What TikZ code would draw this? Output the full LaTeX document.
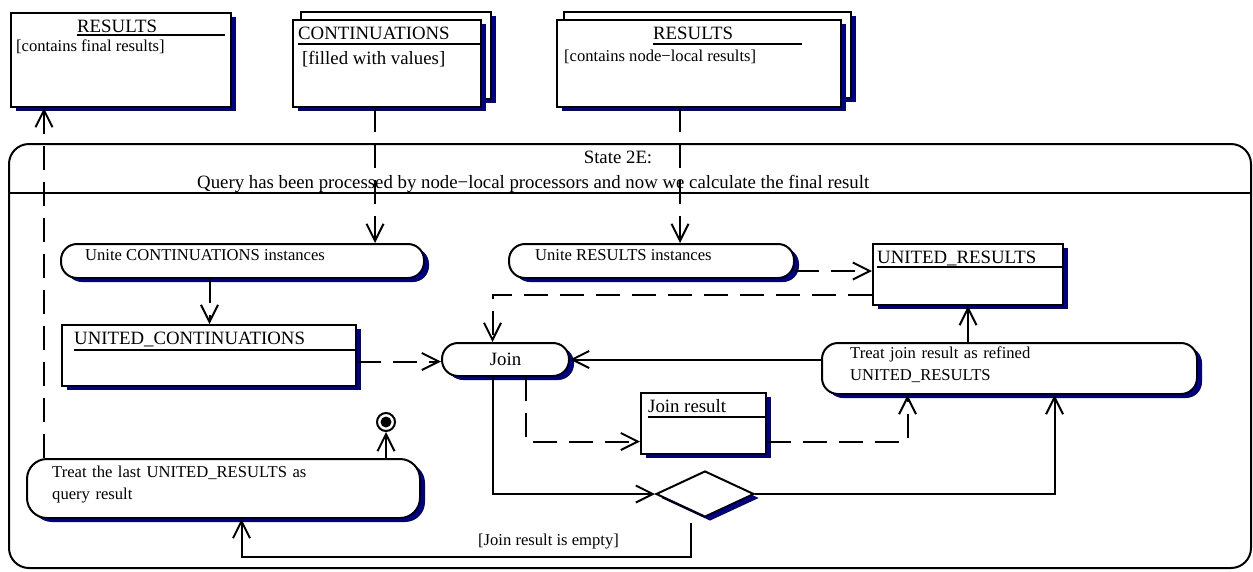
\documentclass[tikz,border=0pt]{standalone}
\usepackage{fontspec}
\setmainfont{Liberation Serif}
\usetikzlibrary{arrows.meta,shapes.geometric,shadows}
\definecolor{shd}{HTML}{000080}
\newcommand\txtsz{\fontsize{16.6pt}{22pt}\selectfont}
\newcommand\ttlsz{\fontsize{18.8pt}{23pt}\selectfont}
\tikzset{
  shdw/.style={drop shadow={shadow xshift=5pt,shadow yshift=-4pt,fill=shd,opacity=1}},
  obj/.style={draw,line width=2pt,fill=white,anchor=north west,inner sep=0pt,shdw},
  act/.style={obj,rounded corners=16pt},
  txt/.style={font=\txtsz,inner sep=0pt,anchor=base west},
  ttl/.style={txt,font=\ttlsz},
  uln/.style={line width=2pt},
  arr/.style={line width=2pt,-{Straight Barb[length=17pt,width=17pt]}},
  darr/.style={arr,dash pattern=on 24pt off 12pt}}

\begin{document}
\begin{tikzpicture}[x=1pt,y=-1pt]
\useasboundingbox (0,0) rectangle (1253,571);
% state
\node[draw,line width=2pt,rounded corners=20pt,anchor=north west,inner sep=0pt,minimum width=1242pt,minimum height=424pt] (st) at (8,143) {};
\draw[uln] ([yshift=-50pt]st.north west) -- ([yshift=-50pt]st.north east);
\node[ttl,anchor=base] (sth) at (618,163) {State 2E:};
\node[ttl] (std) at (197,188) {Query has been processed by node−local processors and now we calculate the final result};
% objects on top
\node[obj,minimum width=220pt,minimum height=94pt] (rf) at (10,12) {};
\node[ttl] (rft) at (77,32) {RESULTS}; \draw[uln] (77,35) -- (225,35);
\node[txt] (rfd) at (16,51) {[contains final results]};
\node[obj,minimum width=190pt,minimum height=87pt] (cb) at (300,11) {};
\node[obj,minimum width=188pt,minimum height=87pt] (cf) at (292,19) {};
\node[ttl] (cft) at (298,39) {CONTINUATIONS}; \draw[uln] (298,44) -- (480,44);
\node[ttl] (cfd) at (302,64) {[filled with values]};
\node[obj,minimum width=287pt,minimum height=86pt] (nb) at (563,11) {};
\node[obj,minimum width=284pt,minimum height=87pt] (nf) at (556,19) {};
\node[ttl] (nft) at (653,39) {RESULTS}; \draw[uln] (653,44) -- (802,44);
\node[txt] (nfd) at (564,61) {[contains node−local results]};
% activities and objects inside
\node[act,minimum width=363pt,minimum height=34pt] (uc) at (60,243) {};
\node[txt] (uct) at (85,260) {Unite CONTINUATIONS instances};
\node[act,minimum width=285pt,minimum height=34pt] (ur) at (508,243) {};
\node[txt] (urt) at (535,260) {Unite RESULTS instances};
\node[obj,minimum width=190pt,minimum height=61pt] (urs) at (872,243) {};
\node[ttl] (urst) at (877,263) {UNITED\_RESULTS}; \draw[uln] (877,267) -- (1062,267);
\node[obj,minimum width=294pt,minimum height=61pt] (ucs) at (61,324) {};
\node[ttl] (ucst) at (74,344) {UNITED\_CONTINUATIONS}; \draw[uln] (74,350) -- (355,350);
\node[act,font=\ttlsz,minimum width=127pt,minimum height=33pt] (jn) at (441,342) {Join};
\node[act,minimum width=375pt,minimum height=51pt] (tj) at (821,342) {};
\node[txt,text width=330pt,align=left] (tjt) at (850,358) {Treat join result as refined\\UNITED\_RESULTS};
\node[obj,minimum width=125pt,minimum height=61pt] (jr) at (640,392) {};
\node[ttl] (jrt) at (648,412) {Join result}; \draw[uln] (648,417) -- (765,417);
\node[diamond,draw,line width=2pt,fill=white,inner sep=0pt,minimum width=98pt,minimum height=46pt,shdw] (dm) at (705,494) {};
\node[act,rounded corners=20pt,minimum width=393pt,minimum height=59pt] (tl) at (26,458) {};
\node[txt,text width=360pt,align=left] (tlt) at (52,477) {Treat the last UNITED\_RESULTS as\\query result};
\node[circle,draw,line width=2pt,fill=white,minimum size=18pt,inner sep=0pt] (fin) at (386,422) {};
\fill (fin.center) circle (5.5pt);
\node[txt] (lj) at (478,545) {[Join result is empty]};
% flows
\draw[darr] ([xshift=-12pt]cf.south) -- ([xshift=-12pt]cf.south |- uc.north);
\draw[darr] ([xshift=-19pt]nf.south) -- ([xshift=-19pt]nf.south |- ur.north);
\draw[darr] ([xshift=-33pt]uc.south) -- ([xshift=-33pt]uc.south |- ucs.north);
\draw[darr] ([yshift=-10pt]ur.east) -- ([yshift=-10pt]ur.east -| urs.west);
\draw[darr] ([yshift=-20pt]urs.west) -| ([xshift=-13pt]jn.north);
\draw[darr] ([yshift=-6pt]ucs.east) -- ([yshift=-6pt]ucs.east -| jn.west);
\draw[arr] (tj.west |- jn.east) -- (jn.east);
\draw[arr] (urs.south |- tj.north) -- (urs.south);
\draw[darr] ([xshift=20pt]jn.south) |- ([yshift=-18pt]jr.west);
\draw[darr] ([yshift=-18pt]jr.east) -| ([xshift=-102pt]tj.south);
\draw[arr] ([xshift=-13pt]jn.south) |- (dm.west);
\draw[arr] (dm.east) -| ([xshift=45pt]tj.south);
\draw[arr] ([xshift=-14pt,yshift=-5pt]dm.south) -- ++(0,34) -| ([xshift=18pt]tl.south);
\draw[arr] (tl.north -| fin.south) -- (fin.south);
\draw[darr] ([xshift=-77pt]rf.south |- tl.north) -- ([xshift=-77pt]rf.south);
\end{tikzpicture}
\end{document}
